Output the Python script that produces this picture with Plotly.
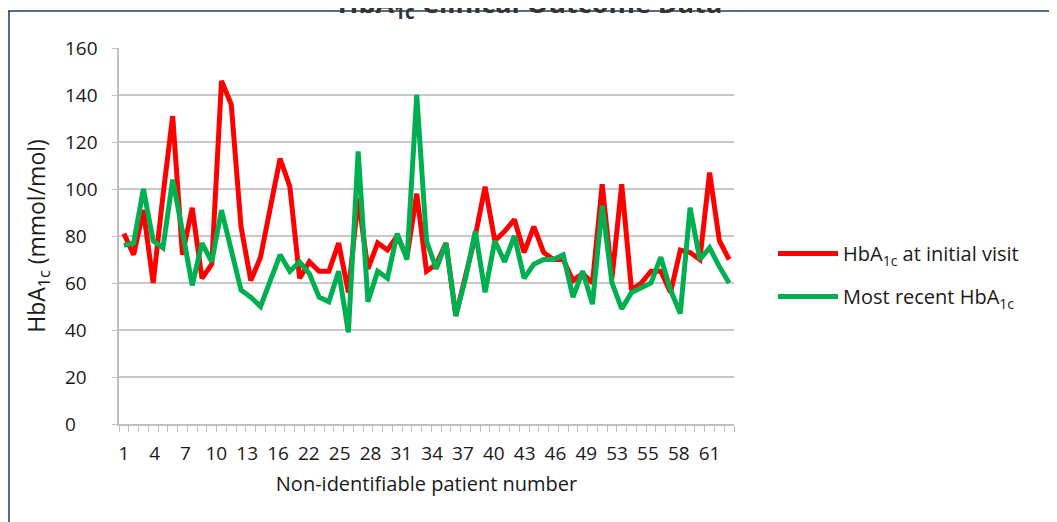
import numpy as np
import plotly.graph_objects as go

patients = list(range(1, 64))
hba1c_initial = [81, 72, 91, 60, 97, 131, 72, 92, 62, 68,
                 146, 136, 84, 61, 71, 92, 113, 101, 62, 69,
                 65, 65, 77, 56, 96, 66, 77, 74, 80, 71,
                 98, 65, 68, 77, 46, 63, 80, 101, 78, 82,
                 87, 73, 84, 73, 70, 70, 61, 64, 60, 102,
                 62, 102, 57, 60, 65, 65, 56, 74, 73, 70,
                 107, 78, 70]
hba1c_recent = [76, 77, 100, 78, 75, 104, 82, 59, 77, 69,
                91, 73, 57, 54, 50, 61, 72, 65, 69, 64,
                54, 52, 65, 39, 116, 52, 65, 62, 81, 70,
                140, 78, 66, 77, 46, 62, 82, 56, 78, 69,
                80, 62, 68, 70, 70, 72, 54, 65, 51, 93,
                60, 49, 56, 58, 60, 71, 57, 47, 92, 70,
                75, 67, 60]
x_tick_labels = ["1", "4", "7", "10", "13", "16", "22", "25", "28", "31",
                 "34", "37", "40", "43", "46", "49", "53", "55", "58", "61"]
y_ticks = [0, 20, 40, 60, 80, 100, 120, 140, 160]

FONT = "Open Sans"
TICKFONT = "Liberation Sans Narrow, Open Sans, sans-serif"

fig = go.Figure()
fig.add_trace(go.Scatter(
    x=patients, y=hba1c_initial, mode="lines",
    name="HbA<sub>1c</sub> at initial visit",
    line=dict(color="#ff0000", width=5), legendgroup="a"))
fig.add_trace(go.Scatter(
    x=patients, y=hba1c_recent, mode="lines",
    name="Most recent HbA<sub>1c</sub>",
    line=dict(color="#00b050", width=5), legendgroup="b"))

# page is offset by the 8px body margin
W, H = 1049, 514
L, R, T, B = 111, 323, 40, 98
pw, ph = W - L - R, H - T - B

def px(xp):
    return (xp - L) / pw

def py(yp):
    return (H - B - yp) / ph

annotations = [
    dict(text=str(v), x=px(55), xref="paper", y=v, yref="y",
         xanchor="left", yanchor="middle", showarrow=False,
         font=dict(family=TICKFONT, size=19, color="#1a1a1a"))
    for v in y_ticks
]

fig.update_layout(
    width=W, height=H,
    margin=dict(l=L, r=R, t=T, b=B),
    paper_bgcolor="white", plot_bgcolor="white",
    font=dict(family=FONT, color="#1a1a1a", size=17),
    title=dict(text="<b>HbA<sub>1c</sub> Clinical Outcome Data</b>",
               x=522 / W, xanchor="center", y=1 - 5 / H, yanchor="bottom",
               font=dict(size=27, color="#333333", family=FONT)),
    showlegend=True,
    legend=dict(x=px(765), y=py(226), xanchor="left", yanchor="top",
                font=dict(size=20, family=FONT), tracegroupgap=14,
                traceorder="grouped", itemwidth=60, bgcolor="rgba(0,0,0,0)"),
    annotations=annotations,
    xaxis=dict(
        range=[0.5, 63.5], showgrid=False, zeroline=False,
        showline=True, linecolor="#bfbfbf", linewidth=2,
        tickmode="array", tickvals=np.linspace(1, 61, len(x_tick_labels)),
        ticktext=x_tick_labels, ticks="",
        ticklabelstandoff=11,
        tickfont=dict(family=TICKFONT, size=19, color="#1a1a1a"),
        minor=dict(tick0=0.5, dtick=1, ticks="outside", ticklen=6,
                   tickcolor="#bfbfbf", tickwidth=1, showgrid=False),
        title=dict(text="Non-identifiable patient number", standoff=12,
                   font=dict(size=20, family=FONT)),
    ),
    yaxis=dict(
        range=[0, 160], tickmode="array", tickvals=y_ticks,
        showticklabels=False,
        showgrid=True, gridcolor="#c8c8c8", gridwidth=2, zeroline=False,
        showline=True, linecolor="#bfbfbf", linewidth=2,
        ticks="outside", ticklen=5, tickcolor="#bfbfbf", tickwidth=1,
        title=dict(text="HbA<sub>1c</sub> (mmol/mol)", standoff=60,
                   font=dict(size=23, family=FONT)),
    ),
    shapes=[
        dict(type="line", xref="paper", yref="paper",
             x0=px(-3), x1=px(W + 5), y0=py(3), y1=py(3),
             line=dict(color="#1f3a60", width=1.5)),
        dict(type="line", xref="paper", yref="paper",
             x0=px(1), x1=px(1), y0=py(3), y1=py(H + 5),
             line=dict(color="#1f3a60", width=1.5)),
    ],
)

fig.write_html("out.html")
